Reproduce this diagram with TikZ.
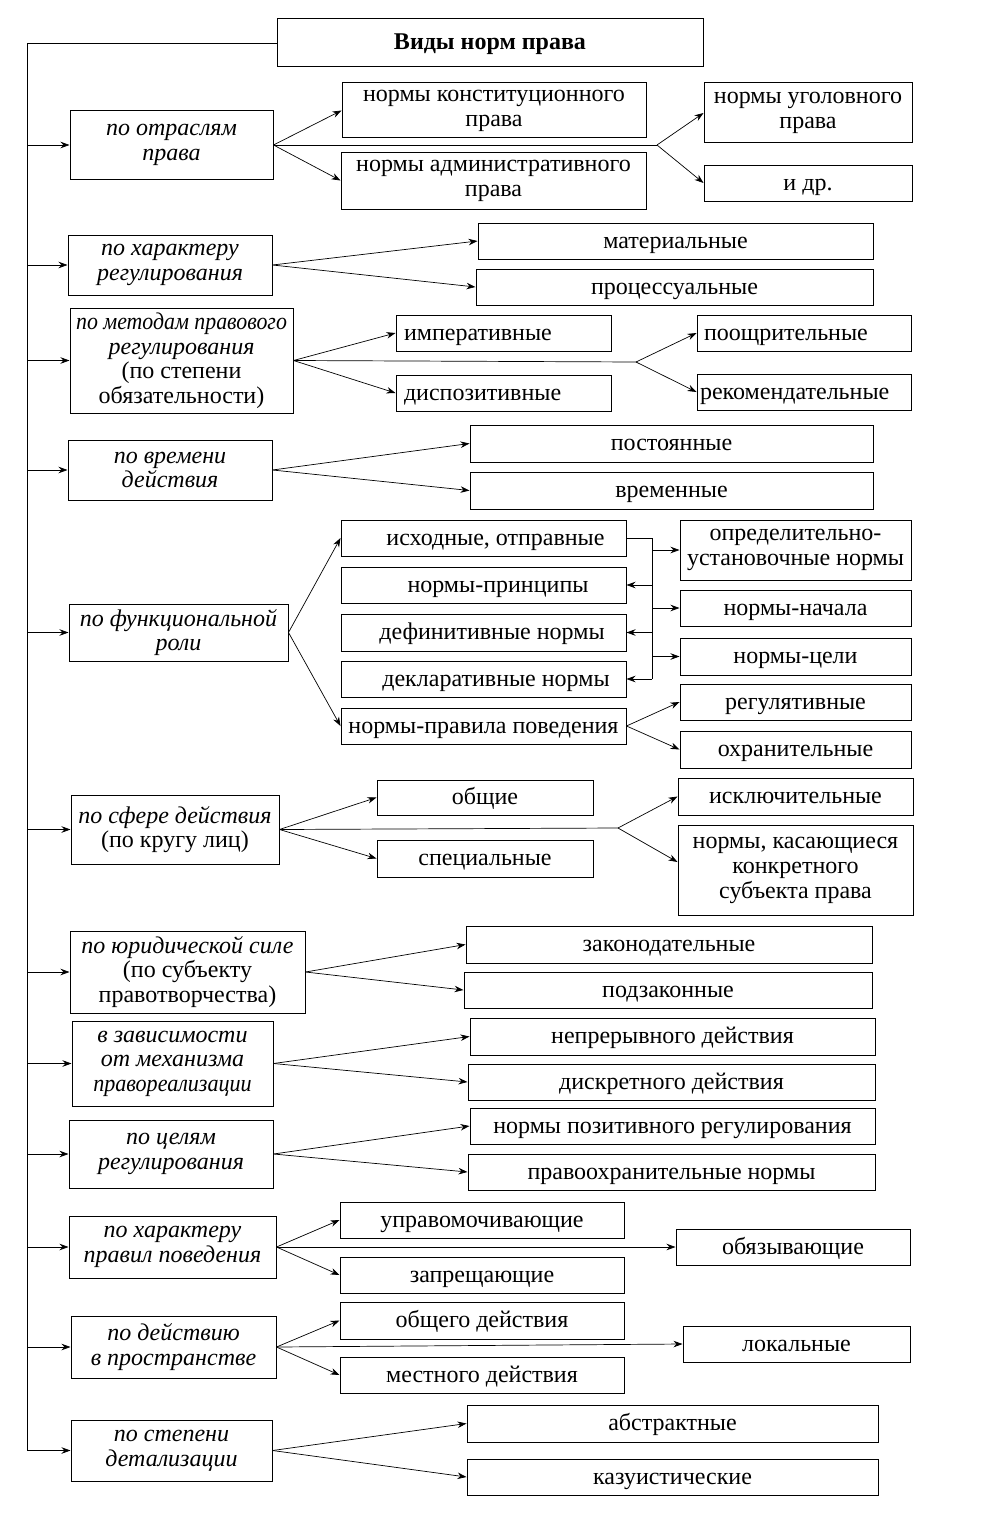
\documentclass[tikz,border=0pt]{standalone}
\usepackage{fontspec}
\usepackage{graphicx}
\setmainfont{Liberation Serif}
\usetikzlibrary{arrows.meta,calc}
\begin{document}
\begin{tikzpicture}[x=1pt,y=-1pt,
  txt/.style={font=\fontsize{24}{25}\selectfont},
  box/.style={draw,line width=1pt,inner sep=0pt,txt,text height=18pt,text depth=4pt},
  mbox/.style={draw,line width=1pt,inner sep=0pt,txt,align=center},
  cat/.style={mbox,font=\fontsize{24}{24.5}\selectfont\itshape},
  ln/.style={line width=0.7pt},
  arr/.style={ln,-{Stealth[length=9pt,width=6.5pt]}}
]
\useasboundingbox (0,0) rectangle (981,1536);
\coordinate (trunk) at (27,0);
% title
\node[box,font=\fontsize{24}{25}\selectfont\bfseries,minimum width=426,minimum height=48] (title) at (490,43) {Виды норм права};
% row 1
\node[cat,minimum width=203,minimum height=68] (A1) at (171.5,145) {по отраслям\\права};
\node[mbox,minimum width=304,minimum height=55] (A1a) at (494,110.5) {нормы конституционного\\права};
\node[mbox,minimum width=305,minimum height=57] (A1b) at (493.5,180.5) {нормы административного\\права};
\node[mbox,minimum width=208,minimum height=60] (A1c) at (808,113) {нормы уголовного\\права};
\node[box,minimum width=208,minimum height=36] (A1d) at (808,183) {и др.};
\coordinate (f1) at (657,145);
% row 2
\node[cat,minimum width=204,minimum height=60] (A2) at (170,265) {по характеру\\регулирования};
\node[box,minimum width=395,minimum height=36] (A2a) at (675.5,241) {материальные};
\node[box,minimum width=397,minimum height=36] (A2b) at (674.5,287) {процессуальные};
% row 3
\node[cat,minimum width=223,minimum height=105] (A3) at (181.5,360.5) {\scalebox{0.91}[1]{по методам правового}\\регулирования\\\upshape(по степени\\\upshape обязательности)};
\node[box,minimum width=215,minimum height=36,text width=199,align=left] (A3a) at (503.5,333) {императивные};
\node[box,minimum width=215,minimum height=36,text width=199,align=left] (A3b) at (503.5,393) {диспозитивные};
\node[box,minimum width=214,minimum height=36,text width=200,align=left] (A3c) at (804,333) {поощрительные};
\node[box,minimum width=214,minimum height=36,text width=208,align=left] (A3d) at (804,392) {рекомендательные};
\coordinate (f3) at (636,362);
% row 4
\node[cat,minimum width=204,minimum height=60] (A4) at (170,470) {по времени\\действия};
\node[box,minimum width=403,minimum height=37] (A4a) at (671.5,443.5) {постоянные};
\node[box,minimum width=403,minimum height=37] (A4b) at (671.5,490.5) {временные};
% row 5
\node[cat,minimum width=219,minimum height=57] (A5) at (178.5,632.5) {по функциональной\\роли};
\node[box,minimum width=285,minimum height=36] (A5a) at (483.5,538) {\hspace*{24pt}исходные, отправные};
\node[box,minimum width=285,minimum height=36] (A5b) at (483.5,585) {\hspace*{29pt}нормы-принципы};
\node[box,minimum width=285,minimum height=37] (A5c) at (483.5,632.5) {\hspace*{17pt}дефинитивные нормы};
\node[box,minimum width=285,minimum height=36] (A5d) at (483.5,679) {\hspace*{25pt}декларативные нормы};
\node[box,minimum width=285,minimum height=36] (A5e) at (483.5,726) {нормы-правила поведения};
\node[mbox,minimum width=231,minimum height=60] (A5f) at (795.5,550) {определительно-\\установочные нормы};
\node[box,minimum width=231,minimum height=36] (A5g) at (795.5,608) {нормы-начала};
\node[box,minimum width=231,minimum height=37] (A5h) at (795.5,656.5) {нормы-цели};
\node[box,minimum width=231,minimum height=36] (A5i) at (795.5,702) {регулятивные};
\node[box,minimum width=231,minimum height=37] (A5j) at (795.5,749.5) {охранительные};
\coordinate (brx) at (652,0);
% row 6
\node[cat,minimum width=208,minimum height=69] (A6) at (175,829.5) {по сфере действия\\\upshape(по кругу лиц)};
\node[box,minimum width=216,minimum height=35] (A6a) at (485,797.5) {общие};
\node[box,minimum width=216,minimum height=37] (A6b) at (485,858.5) {специальные};
\node[box,minimum width=235,minimum height=37] (A6c) at (795.5,796.5) {исключительные};
\node[mbox,minimum width=235,minimum height=90] (A6d) at (795.5,870) {нормы, касающиеся\\конкретного\\субъекта права};
\coordinate (f6) at (618,828);
% row 7
\node[cat,minimum width=235,minimum height=82] (A7) at (187.5,972) {по юридической силе\\\upshape(по субъекту\\\upshape правотворчества)};
\node[box,minimum width=406,minimum height=37] (A7a) at (669,944.5) {законодательные};
\node[box,minimum width=408,minimum height=36] (A7b) at (668,990) {подзаконные};
% row 8
\node[cat,minimum width=201,minimum height=85] (A8) at (172.5,1063.5) {в зависимости\\от механизма\\\scalebox{0.92}[1]{правореализации}};
\node[box,minimum width=405,minimum height=37] (A8a) at (672.5,1036.5) {непрерывного действия};
\node[box,minimum width=407,minimum height=36] (A8b) at (671.5,1082) {дискретного действия};
% row 9
\node[cat,minimum width=204,minimum height=68] (A9) at (171,1154) {по целям\\регулирования};
\node[box,minimum width=405,minimum height=36] (A9a) at (672.5,1126) {нормы позитивного регулирования};
\node[box,minimum width=407,minimum height=36] (A9b) at (671.5,1172) {правоохранительные нормы};
% row 10
\node[cat,minimum width=207,minimum height=62] (A10) at (172.5,1247) {по характеру\\правил поведения};
\node[box,minimum width=284,minimum height=36] (A10a) at (482,1220) {управомочивающие};
\node[box,minimum width=284,minimum height=36] (A10b) at (482,1275) {запрещающие};
\node[box,minimum width=234,minimum height=36] (A10c) at (793,1247) {обязывающие};
% row 11
\node[cat,minimum width=205,minimum height=62] (A11) at (173.5,1347) {по действию\\в пространстве};
\node[box,minimum width=284,minimum height=37] (A11a) at (482,1320.5) {общего действия};
\node[box,minimum width=284,minimum height=36] (A11b) at (482,1375) {местного действия};
\node[box,minimum width=227,minimum height=36] (A11c) at (796.5,1344) {локальные};
% row 12
\node[cat,minimum width=201,minimum height=61] (A12) at (171.5,1450.5) {по степени\\детализации};
\node[box,minimum width=411,minimum height=37] (A12a) at (672.5,1423.5) {абстрактные};
\node[box,minimum width=411,minimum height=36] (A12b) at (672.5,1477) {казуистические};

% trunk
\draw[ln] (title.west) -| (A12.west -| trunk);
\foreach \n in {A1,A2,A3,A4,A5,A6,A7,A8,A9,A10,A11,A12}
  \draw[arr] (\n.west -| trunk) -- (\n.west);
% row 1
\draw[arr] (A1.east) -- (A1a.west);
\draw[arr] (A1.east) -- (A1b.west);
\draw[ln] (A1.east) -- (f1);
\draw[arr] (f1) -- (A1c.west);
\draw[arr] (f1) -- (A1d.west);
% row 2
\draw[arr] (A2.east) -- (A2a.west);
\draw[arr] (A2.east) -- (A2b.west);
% row 3
\draw[arr] (A3.east) -- (A3a.west);
\draw[arr] (A3.east) -- (A3b.west);
\draw[ln] (A3.east) -- (f3);
\draw[arr] (f3) -- (A3c.west);
\draw[arr] (f3) -- (A3d.west);
% row 4
\draw[arr] (A4.east) -- (A4a.west);
\draw[arr] (A4.east) -- (A4b.west);
% row 5
\draw[arr] (A5.east) -- (A5a.west);
\draw[arr] (A5.east) -- (A5e.west);
\draw[ln] (A5a.east) -- (A5a.east -| brx) -- (A5d.east -| brx);
\draw[arr] (A5f.west -| brx) -- (A5f.west);
\draw[arr] (A5g.west -| brx) -- (A5g.west);
\draw[arr] (A5h.west -| brx) -- (A5h.west);
\draw[arr] (A5b.east -| brx) -- (A5b.east);
\draw[arr] (A5c.east -| brx) -- (A5c.east);
\draw[arr] (A5d.east -| brx) -- (A5d.east);
\draw[arr] (A5e.east) -- (A5i.west);
\draw[arr] (A5e.east) -- (A5j.west);
% row 6
\draw[arr] (A6.east) -- (A6a.west);
\draw[arr] (A6.east) -- (A6b.west);
\draw[ln] (A6.east) -- (f6);
\draw[arr] (f6) -- (A6c.west);
\draw[arr] (f6) -- ($(A6d.west)+(0,-8)$);
% rows 7-9
\draw[arr] (A7.east) -- (A7a.west);
\draw[arr] (A7.east) -- (A7b.west);
\draw[arr] (A8.east) -- (A8a.west);
\draw[arr] (A8.east) -- (A8b.west);
\draw[arr] (A9.east) -- (A9a.west);
\draw[arr] (A9.east) -- (A9b.west);
% row 10
\draw[arr] (A10.east) -- (A10a.west);
\draw[arr] (A10.east) -- (A10b.west);
\draw[arr] (A10.east) -- (A10c.west);
% row 11
\draw[arr] (A11.east) -- (A11a.west);
\draw[arr] (A11.east) -- (A11b.west);
\draw[arr] (A11.east) -- (A11c.west);
% row 12
\draw[arr] (A12.east) -- (A12a.west);
\draw[arr] (A12.east) -- (A12b.west);
\end{tikzpicture}
\end{document}
